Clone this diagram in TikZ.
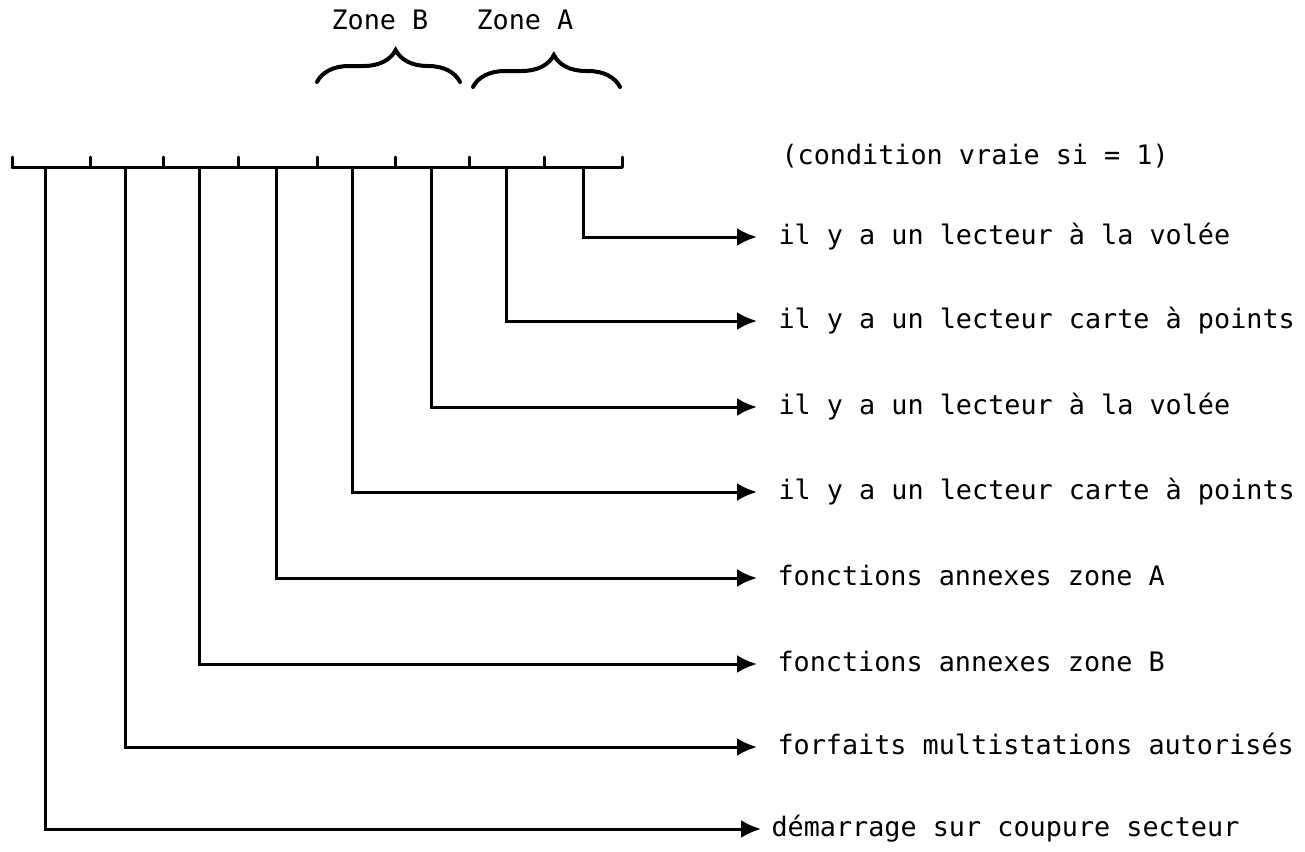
\documentclass[tikz,border=0pt]{standalone}
\usepackage{fontspec}
\newfontfamily\typew{DejaVu Sans Mono}
\usetikzlibrary{arrows.meta,decorations.pathreplacing}
\begin{document}
\begin{tikzpicture}[x=1pt,y=-1pt,line width=3pt,line cap=round,
  lbl/.style={font=\typew\fontsize{26.8}{30}\selectfont,anchor=west,inner sep=0pt,text height=18pt,text depth=4pt},
  arr/.style={-{Latex[length=20pt,width=18pt]},line width=3pt,line cap=butt},
  brc/.style={decorate,decoration={brace,amplitude=32pt,aspect=0.55},line width=4pt}]
\useasboundingbox (0,0) rectangle (1305,851);
% bar and ticks
\coordinate (b0) at (12,167);
\coordinate (b1) at (622,167);
\draw (b0) -- (b1);
\foreach \x in {12,90,163,238,317,395,469,544,622}
  \draw (\x,167) -- (\x,157);
% zones
\node[lbl] (zb) at (330,23) {Zone B};
\node[lbl] (za) at (475,23) {Zone A};
\coordinate (zb1) at (317,82);
\coordinate (zb2) at (460,82);
\coordinate (za1) at (473,87);
\coordinate (za2) at (620,87);
\draw[brc] (zb1) -- (zb2);
\draw[brc] (za1) -- (za2);
% condition
\node[lbl] (cond) at (780,157) {(condition vraie si = 1)};
% labels
\node[lbl] (t1) at (777,237) {il y a un lecteur à la volée};
\node[lbl] (t2) at (777,321) {il y a un lecteur carte à points};
\node[lbl] (t3) at (777,407) {il y a un lecteur à la volée};
\node[lbl] (t4) at (777,492) {il y a un lecteur carte à points};
\node[lbl] (t5) at (776,578) {fonctions annexes zone A};
\node[lbl] (t6) at (776,664) {fonctions annexes zone B};
\node[lbl] (t7) at (776,747) {forfaits multistations autorisés};
\node[lbl] (t8) at (770,829) {démarrage sur coupure secteur};
% bit taps
\coordinate (v1) at (583,167);
\coordinate (v2) at (506,167);
\coordinate (v3) at (431,167);
\coordinate (v4) at (352,167);
\coordinate (v5) at (276,167);
\coordinate (v6) at (199,167);
\coordinate (v7) at (125,167);
\coordinate (v8) at (45,167);
\draw[arr] (v1) |- ([xshift=-20pt]t1.west);
\draw[arr] (v2) |- ([xshift=-20pt]t2.west);
\draw[arr] (v3) |- ([xshift=-20pt]t3.west);
\draw[arr] (v4) |- ([xshift=-20pt]t4.west);
\draw[arr] (v5) |- ([xshift=-19pt]t5.west);
\draw[arr] (v6) |- ([xshift=-19pt]t6.west);
\draw[arr] (v7) |- ([xshift=-19pt]t7.west);
\draw[arr] (v8) |- ([xshift=-9pt]t8.west);
\end{tikzpicture}
\end{document}
